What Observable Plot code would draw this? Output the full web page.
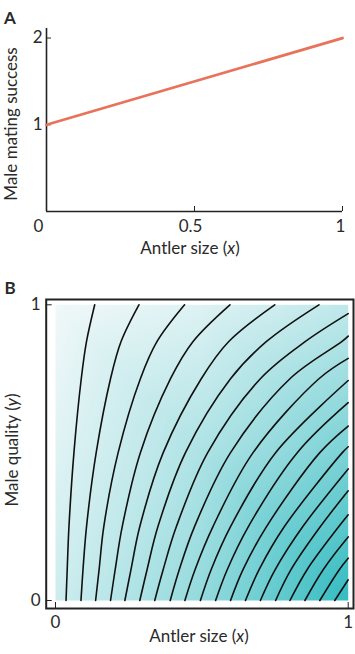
<!DOCTYPE html>
<html><head><meta charset="utf-8">
<script src="https://cdn.jsdelivr.net/npm/d3@7"></script>
<script src="https://cdn.jsdelivr.net/npm/@observablehq/plot@0.6"></script>
<style>
body{margin:0;background:#fff;}
#wrap{position:relative;width:355px;height:654px;font-family:Lato,sans-serif;color:#2a2a2a;overflow:hidden;}
#wrap svg{position:absolute;left:0;}
.lbl{position:absolute;font-size:17px;white-space:nowrap;line-height:1;transform:translate(-50%,-50%);}
.rot{transform:translate(-50%,-50%) rotate(-90deg);}
.panel{position:absolute;font-size:17px;font-weight:bold;line-height:1;transform:translate(-50%,-50%);}
</style></head><body><div id="wrap"></div>
<script>
// ---------- Panel A data ----------
const antlerSize = [0, 1];
const matingSuccess = [1, 2];
const ticksAx = [0, 0.5, 1];
const ticksAy = [1, 2];

// ---------- Panel B data: contour crossings ----------
// x position of each contour at given male-quality levels (contour 1 = leftmost)
const levelY = [0, 0.105, 0.25, 0.5, 0.75, 0.876, 1];
const crossAt0    = [0.036,0.087,0.137,0.188,0.237,0.288,0.339,0.392,0.442,0.495,0.547,0.598,0.649,0.700,0.752,0.801,0.852,0.903,0.954];
const crossAt0105 = [0.040,0.094,0.149,0.204,0.258,0.313,0.368,0.423,0.477,0.532,0.587,0.641,0.696,0.751,0.805,0.860,0.915,0.970];
const crossAt025  = [0.046,0.106,0.165,0.228,0.288,0.350,0.413,0.475,0.538,0.598,0.659,0.721,0.782,0.845,0.905,0.968];
const crossAt05   = [0.063,0.139,0.214,0.290,0.368,0.444,0.520,0.598,0.675,0.752,0.826,0.903,0.980];
const crossAt075  = [0.088,0.188,0.290,0.393,0.498,0.598,0.700,0.801,0.900];
const crossAt0876 = [0.106,0.224,0.347,0.470,0.592,0.721,0.854,0.979];
const crossAt1    = [0.134,0.285,0.441,0.596,0.749,0.900];
// male quality where contours 7..19 meet the right edge (antler size = 1)
const edgeContour = [7,8,9,10,11,12,13,14,15,16,17,18,19];
const edgeY       = [0.970,0.894,0.819,0.744,0.669,0.590,0.520,0.445,0.371,0.290,0.215,0.143,0.070];
// background shade sampled at a 3x3 grid
const shadeX = [0, 0.5, 1];
const shadeY = [0, 0.5, 1];
const shadeRows = [ // rows for y = 0, 0.5, 1
  [0.19, 0.50, 1.00],
  [0.09, 0.36, 0.63],
  [0.00, 0.10, 0.26]
];
const ticksB = [0, 1];

// ---------- build tables ----------
const lineA = antlerSize.map((x, i) => ({x, y: matingSuccess[i]}));
const crossLists = [crossAt0, crossAt0105, crossAt025, crossAt05, crossAt075, crossAt0876, crossAt1];
const contourPts = [];
for (let k = 0; k < crossAt0.length; k++) {
  crossLists.forEach((list, i) => {
    if (k < list.length) contourPts.push({c: k + 1, x: list[k], y: levelY[i]});
  });
  const e = edgeContour.indexOf(k + 1);
  if (e >= 0) contourPts.push({c: k + 1, x: 1, y: edgeY[e]});
}
const shade = [];
shadeY.forEach((y, j) => shadeX.forEach((x, i) => shade.push({x, y, v: shadeRows[j][i]})));

const fmt = d => String(d);
const font = {fontSize: "17px", fontFamily: "Lato, sans-serif", background: "transparent", color: "#2a2a2a", overflow: "visible"};
const wrap = document.getElementById("wrap");

// ---------- Panel A ----------
const plotA = Plot.plot({
  width: 355, height: 260,
  marginLeft: 46, marginRight: 13, marginTop: 28, marginBottom: 49,
  style: font,
  x: {domain: [0, 1], label: null},
  y: {domain: [0, 2.11], label: null},
  marks: [
    Plot.ruleX([0], {stroke: "#222", strokeWidth: 1.6}),
    Plot.ruleY([0], {stroke: "#222", strokeWidth: 1.6}),
    Plot.axisX([0.5, 1], {tickSize: -5, tickFormat: () => "", stroke: "#222", label: null}),
    Plot.axisY(ticksAy, {tickSize: -5, tickFormat: () => "", stroke: "#222", label: null}),
    Plot.axisX([ticksAx[0]], {tickSize: 0, tickPadding: 8, dx: -8, tickFormat: fmt, label: null}),
    Plot.axisX([ticksAx[1]], {tickSize: 0, tickPadding: 8, dx: -4, tickFormat: fmt, label: null}),
    Plot.axisX([ticksAx[2]], {tickSize: 0, tickPadding: 8, dx: -2, tickFormat: fmt, label: null}),
    Plot.axisY(ticksAy, {tickSize: 0, tickPadding: 4, tickFormat: fmt, label: null}),
    Plot.line(lineA, {x: "x", y: "y", stroke: "#e8735a", strokeWidth: 2.8})
  ]
});
plotA.style.top = "0px";
wrap.appendChild(plotA);

// ---------- Panel B ----------
const plotB = Plot.plot({
  width: 355, height: 394,
  marginLeft: 55, marginRight: 7.3, marginTop: 44.3, marginBottom: 54,
  style: font,
  x: {domain: [0, 1], label: null},
  y: {domain: [0, 1], label: null},
  color: {type: "linear", domain: [0, 1], range: ["#f1f8f9", "#35bcc1"]},
  marks: [
    Plot.raster(shade, {x: "x", y: "y", fill: "v", interpolate: "barycentric", x1: 0, x2: 1, y1: 0, y2: 1, pixelSize: 1}),
    Plot.line(contourPts, {x: "x", y: "y", z: "c", stroke: "#111", strokeWidth: 1.6, curve: "catmull-rom"}),
    Plot.frame({stroke: "#222", strokeWidth: 2, insetLeft: -9.3, insetRight: -5.3, insetTop: -5.3, insetBottom: -8}),
    Plot.axisY(ticksB, {tickSize: -6, dx: -9.3, tickFormat: () => "", stroke: "#222", label: null}),
    Plot.axisX(ticksB, {tickSize: -6, dy: 8, tickFormat: () => "", stroke: "#222", label: null}),
    Plot.axisY(ticksB, {tickSize: 0, tickPadding: 15, tickFormat: fmt, label: null}),
    Plot.axisX(ticksB, {tickSize: 0, tickPadding: 15, tickFormat: fmt, label: null})
  ]
});
plotB.style.top = "260px";
wrap.appendChild(plotB);

// ---------- text labels ----------
function addLabel(html, x, y, cls) {
  const d = document.createElement("div");
  d.className = cls;
  d.innerHTML = html;
  d.style.left = x + "px";
  d.style.top = y + "px";
  wrap.appendChild(d);
}
addLabel("A", 10, 17, "panel");
addLabel("B", 10, 287, "panel");
addLabel("Male mating success", 10, 124, "lbl rot");
addLabel("Antler size (<i>x</i>)", 190, 247, "lbl");
addLabel("Male quality (<i>y</i>)", 11, 450, "lbl rot");
addLabel("Antler size (<i>x</i>)", 199, 635, "lbl");
</script></body></html>
